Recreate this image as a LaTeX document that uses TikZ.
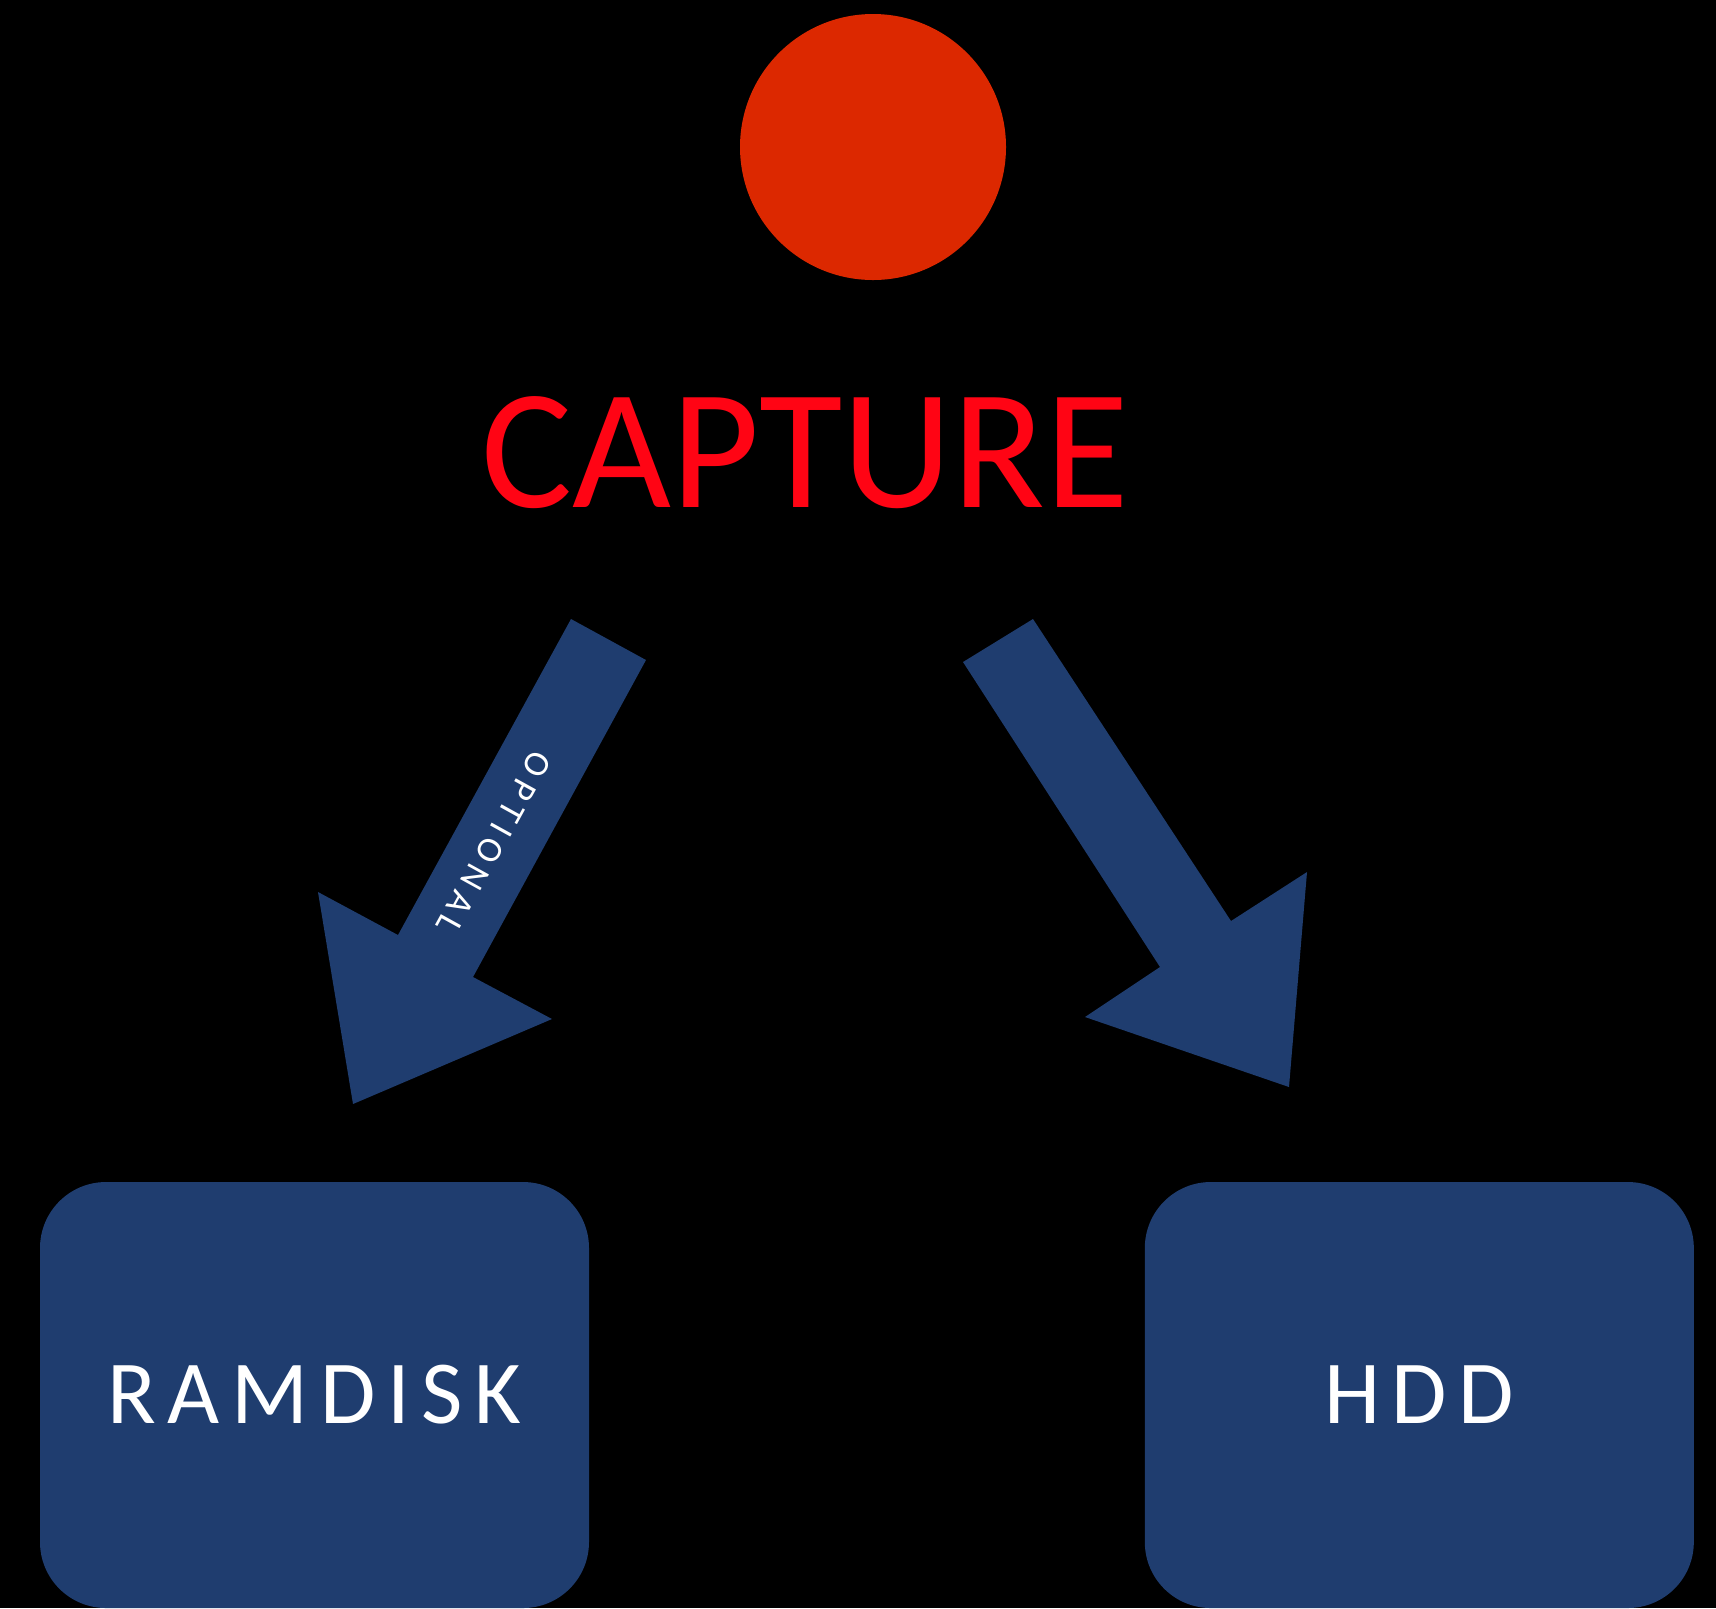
\documentclass[tikz,border=0pt]{standalone}
\usepackage{fontspec}
\setmainfont{Carlito}
\newfontfamily\boxfont[LetterSpace=13]{Carlito}
\newfontfamily\tagfont[LetterSpace=20]{Carlito}
\usetikzlibrary{
	positioning				% right=of for the second store
}
\definecolor{capturered}{RGB}{255,4,20}
\definecolor{dotred}{RGB}{220,40,0}
\definecolor{storeblue}{RGB}{31,61,111}

\begin{document}
\begin{tikzpicture}[
		x=0.5pt, y=-0.5pt
		, dot/.style={circle, fill=dotred, minimum size=133pt, inner sep=0pt}
		, title/.style={text=capturered, inner sep=0pt, font=\fontsize{85.5}{88}\selectfont}
		, storage/.style={rectangle, rounded corners=33pt, fill=storeblue, minimum width=274.5pt,
			minimum height=213pt, inner sep=0pt, text=white, font=\boxfont\fontsize{45}{48}\selectfont}
		, flow/.style={fill=storeblue}
		, flowtag/.style={text=white, inner sep=0pt, font=\tagfont\fontsize{18}{19}\selectfont}]

		%%% Background
		\path[use as bounding box, fill=black] (0,0) rectangle (1716,1608);

		%%% Capture source
		\node[dot] (capturedot) at (873,147) {};
		\node[title] (capturelabel) at (805,453) {CAPTURE};

		%%% Stores
		\node[storage] (ramdisk) at (314.5,1395) {RAMDISK};
		\node[storage, right=277.5pt of ramdisk] (hdd) {HDD};

		%%% Flows
		%% Capture to RAMDISK
		\fill[flow] (571,619) -- (646,660) -- (473,977) -- (552,1019) -- (353,1104)
			-- (318,892) -- (398,935) -- cycle;
		\node[flowtag, rotate=-118.9] (optionaltag) at (494,843) {OPTIONAL};

		%% Capture to HDD
		\fill[flow] (1033,619) -- (1231,921) -- (1307,872) -- (1289,1087) -- (1085,1017)
			-- (1160,967) -- (963,662) -- cycle;
	\end{tikzpicture}
\end{document}
